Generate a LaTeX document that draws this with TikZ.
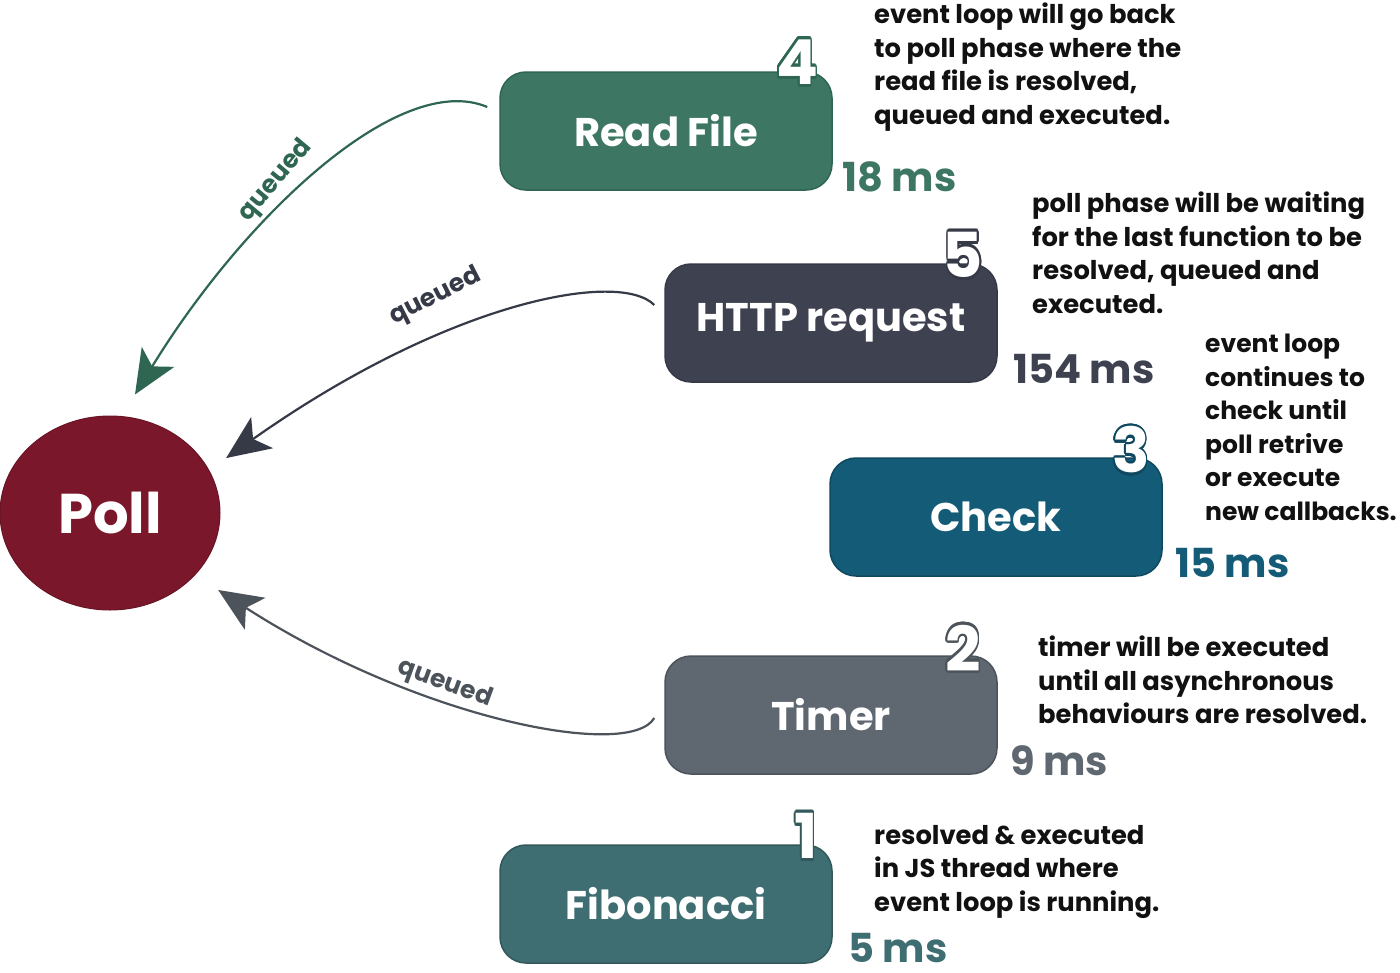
\documentclass[tikz,border=0pt]{standalone}
\usepackage{fontspec}
\setmainfont{Poppins}
\usetikzlibrary{shapes.geometric,arrows.meta,calc}
\definecolor{pollc}{HTML}{7B172B}
\definecolor{rfc}{HTML}{3D7763}
\definecolor{rfl}{HTML}{2E6652}
\definecolor{htc}{HTML}{3E4250}
\definecolor{htl}{HTML}{363A47}
\definecolor{chc}{HTML}{145B77}
\definecolor{tic}{HTML}{5F6771}
\definecolor{til}{HTML}{4C535B}
\definecolor{fic}{HTML}{3F6E72}
\definecolor{txt}{HTML}{111111}
\newcommand{\outlnum}[2]{%
  \foreach \a in {0,20,...,340}{%
    \pgfmathsetlengthmacro{\dx}{2.8pt*cos(\a)}%
    \pgfmathsetlengthmacro{\dy}{2.8pt*sin(\a)}%
    \makebox[0pt]{\hspace*{\dx}\raisebox{\dy}{\textcolor{#1}{#2}}}}%
  \makebox[0pt]{\textcolor{white}{#2}}}
\begin{document}
\begin{tikzpicture}[x=1pt,y=-1pt,
  box/.style={draw, rounded corners=26pt, minimum width=332pt, minimum height=118pt,
    line width=1.5pt, text=white, inner sep=0pt,
    font=\fontsize{40}{44}\selectfont\bfseries},
  desc/.style={anchor=north west, align=left, inner sep=0pt, text=txt,
    font=\fontsize{25.8}{33.5}\selectfont\bfseries},
  ms/.style={anchor=base west, inner sep=0pt, font=\fontsize{40}{44}\selectfont\bfseries},
  lbl/.style={inner sep=0pt, font=\fontsize{25}{30}\selectfont\bfseries},
  num/.style={inner sep=0pt, font=\fontsize{62}{64}\selectfont\bfseries},
  arr/.style={line width=2.2pt, -{Stealth[length=44pt,width=38pt,inset=11pt]}}]
\useasboundingbox (0,0) rectangle (1400,972);
\fill[white] (0,0) rectangle (1400,972);

\node[ellipse, fill=pollc, draw=pollc!85!black, line width=1pt, minimum width=220pt,
  minimum height=194pt, text=white, font=\fontsize{56}{60}\selectfont\bfseries] (poll) at (110,513) {Poll};

\node[box, fill=rfc, draw=rfl] (rf) at (666,131) {Read File};
\node[box, fill=htc, draw=htl] (ht) at (831,323) {HTTP request};
\node[box, fill=chc, draw=chc!80!black] (ch) at (996,517) {Check};
\node[box, fill=tic, draw=til] (ti) at (831,715) {Timer};
\node[box, fill=fic, draw=fic!80!black] (fi) at (666,904) {Fibonacci};

\node[num] (n4) at (797,62) {\outlnum{rfl}{4}};
\node[num] (n5) at (963,255) {\outlnum{htl}{5}};
\node[num] (n3) at (1131,450) {\outlnum{chc!80!black}{3}};
\node[num] (n2) at (963,648) {\outlnum{til}{2}};
\node[num] (n1) at (806,836) {\outlnum{fic!80!black}{1}};

\node[ms, text=rfc] (m4) at (842,191) {18 ms};
\node[ms, text=htc] (m5) at (1013,383) {154 ms};
\node[ms, text=chc] (m3) at (1175,577) {15 ms};
\node[ms, text=tic] (m2) at (1010,775) {9 ms};
\node[ms, text=fic] (m1) at (848,962) {5 ms};

\node[desc] (d4) at (874,3) {event loop will go back\\to poll phase where the\\read file is resolved,\\queued and executed.};
\node[desc] (d5) at (1032,192) {poll phase will be waiting\\for the last function to be\\resolved, queued and\\executed.};
\node[desc, font=\fontsize{25}{33.5}\selectfont\bfseries] (d3) at (1205,334) {event loop\\continues to\\check until\\poll retrive\\or execute\\new callbacks.};
\node[desc] (d2) at (1038,636) {timer will be executed\\until all asynchronous\\behaviours are resolved.};
\node[desc] (d1) at (874,825) {resolved \& executed\\in JS thread where\\event loop is running.};

\coordinate (s4) at ($(rf.west)+(-12,-24)$);
\coordinate (e4) at ($(poll.north)+(25,-21)$);
\coordinate (s5) at ($(ht.west)+(-10,-18)$);
\coordinate (e5) at ($(poll.north east)+(38,14)$);
\coordinate (s2) at ($(ti.west)+(-10,3)$);
\coordinate (e2) at ($(poll.south east)+(30,8)$);

\draw[arr, rfl] (s4) .. controls (400,70) and (245,215) .. (e4);
\draw[arr, htl] (s5) .. controls (620,270) and (450,300) .. (e5);
\draw[arr, til] (s2) .. controls (630,760) and (420,720) .. (e2);

\node[lbl, text=rfl, rotate=50] (q4) at (276,181) {queued};
\node[lbl, text=htl, rotate=27] (q5) at (436,297) {queued};
\node[lbl, text=til, rotate=-20] (q2) at (445,684) {queued};
\end{tikzpicture}
\end{document}
